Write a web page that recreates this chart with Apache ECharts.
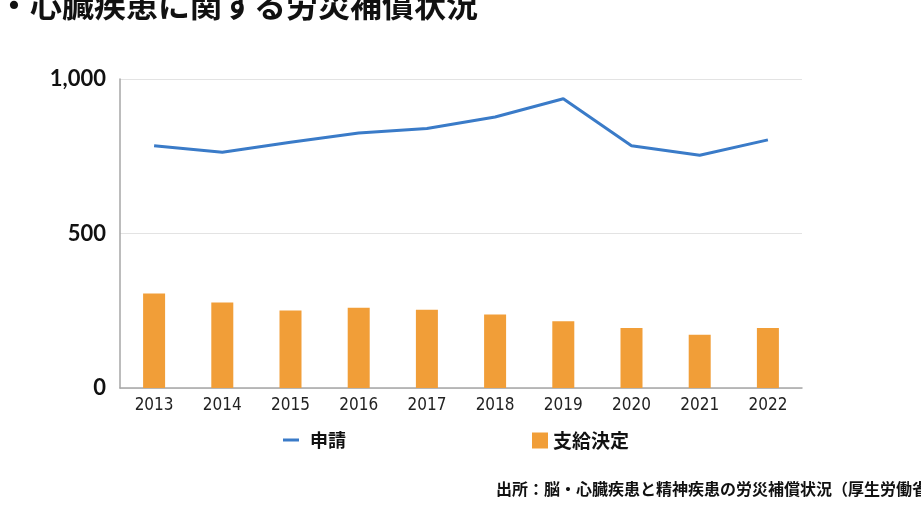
<!DOCTYPE html>
<html>
<head>
<meta charset="utf-8">
<script src="https://cdn.jsdelivr.net/npm/echarts@6/dist/echarts.min.js"></script>
<style>
  html, body { margin: 0; padding: 0; background: #fff; }
  #chart { width: 921px; height: 518px; }
</style>
</head>
<body>
<div id="chart"></div>
<script>
var years = ['2013', '2014', '2015', '2016', '2017', '2018', '2019', '2020', '2021', '2022'];
var claims = [784, 763, 795, 825, 840, 877, 936, 784, 753, 803];   // 申請
var approved = [306, 277, 251, 260, 253, 238, 216, 194, 172, 194]; // 支給決定
var yTicks = [0, 500, 1000];

var titleText = '・心臓疾患に関する労災補償状況';
var sourceText = '出所：脳・心臓疾患と精神疾患の労災補償状況（厚生労働省）';

var jp = '"Noto Sans CJK JP", "Noto Sans", sans-serif';

var chart = echarts.init(document.getElementById('chart'));

var option = {
    animation: false,
    backgroundColor: '#fff',
    title: [{
        text: titleText,
        left: -7,
        top: -16,
        textStyle: { fontFamily: jp, fontSize: 32, fontWeight: 'bold', color: '#111' }
    }, {
        text: sourceText,
        left: 491,
        top: 476,
        textStyle: { fontFamily: jp, fontSize: 16, fontWeight: 'bold', color: '#111' }
    }],
    legend: [{
        data: ['申請'],
        left: 278,
        top: 426,
        icon: 'rect',
        itemWidth: 16,
        itemHeight: 3,
        itemGap: 10,
        textStyle: { fontFamily: jp, fontSize: 18, fontWeight: 'bold', color: '#111', padding: [0, 0, 0, 6] }
    }, {
        data: ['支給決定'],
        left: 527,
        top: 426,
        icon: 'rect',
        itemWidth: 16,
        itemHeight: 16,
        textStyle: { fontFamily: jp, fontSize: 19, fontWeight: 'bold', color: '#111' }
    }],
    grid: { left: 120, right: 119, top: 79, bottom: 130 },
    xAxis: {
        type: 'category',
        data: years,
        axisLine: { lineStyle: { color: '#a6a6a6', width: 1.5 } },
        axisTick: { show: false },
        axisLabel: { fontFamily: '"DejaVu Sans Condensed", "Liberation Sans Narrow", sans-serif', fontSize: 17, color: '#222', margin: 9 }
    },
    yAxis: {
        type: 'value',
        min: 0,
        max: 1000,
        interval: 500,
        axisLine: { show: true, lineStyle: { color: '#a6a6a6', width: 1.5 } },
        axisTick: { show: false },
        splitLine: { lineStyle: { color: '#e3e3e3' } },
        axisLabel: {
            fontFamily: 'Lato, Roboto, sans-serif',
            fontSize: 22,
            fontWeight: 'bold',
            color: '#111',
            margin: 14,
            formatter: function (v) {
                return yTicks.indexOf(v) >= 0 ? v.toLocaleString('en-US') : '';
            }
        }
    },
    series: [{
        name: '申請',
        type: 'line',
        data: claims,
        symbol: 'none',
        lineStyle: { color: '#3a7bc8', width: 3 },
        itemStyle: { color: '#3a7bc8' }
    }, {
        name: '支給決定',
        type: 'bar',
        data: approved,
        barWidth: 22,
        itemStyle: { color: '#f19e38' }
    }]
};

chart.setOption(option);
</script>
</body>
</html>
